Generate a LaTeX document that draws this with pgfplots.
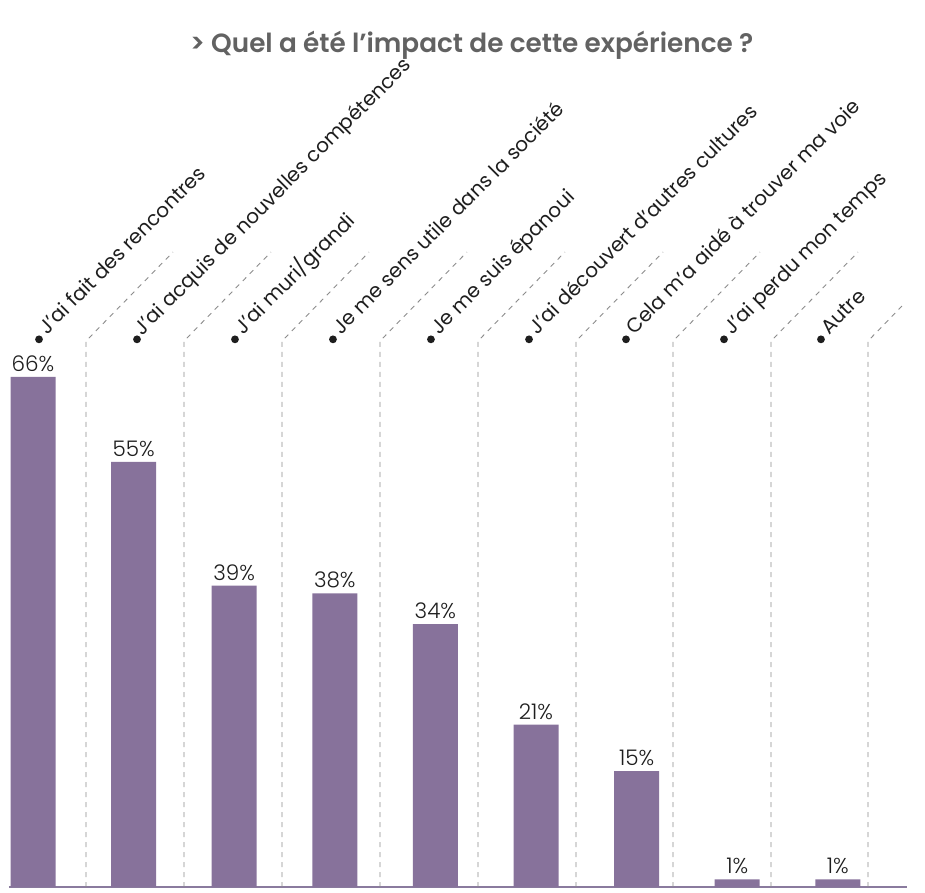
\documentclass[border=0pt]{standalone}
\usepackage{fontspec}
\setmainfont{Poppins}
\IfFontExistsTF{Poppins Light}{\newfontfamily\lightfont{Poppins Light}}{\newfontfamily\lightfont{Poppins}}
\IfFontExistsTF{Poppins SemiBold}{\newfontfamily\titlefont{Poppins SemiBold}}{\newfontfamily\titlefont{Poppins}}
\usepackage{pgfplots}
\pgfplotsset{compat=1.18}
\definecolor{barc}{HTML}{87729B}
\definecolor{basec}{HTML}{8A7B9E}
\definecolor{dashc}{HTML}{8C8C8C}
\definecolor{titc}{HTML}{626262}
\definecolor{txt}{HTML}{1E1E1E}
\pgfplotstableread{
x y
0 66
1 55
2 39
3 38
4 34
5 21
6 15
7 1
8 1
}\data
\begin{document}
\begin{tikzpicture}[x=1pt,y=1pt]
\useasboundingbox (0,0) rectangle (925,892);
\begin{axis}[
  at={(9pt,5pt)}, anchor=south west,
  scale only axis, width=898pt, height=887pt,
  xmin=-0.2386, xmax=8.688, ymin=0, ymax=114.75,
  axis x line*=bottom, hide y axis,
  x axis line style={line width=2.5pt, color=basec},
  xtick=\empty, ytick=\empty,
  clip=false,
  /pgf/number format/assume math mode=true,
]
\addplot[ybar, bar width=45pt, fill=barc, draw=none,
  nodes near coords={\pgfmathprintnumber{\pgfplotspointmeta}\%},
  nodes near coords style={font=\lightfont\fontsize{21.5}{21.5}\selectfont, text=txt, anchor=south, inner sep=1pt, yshift=4pt}]
  table[x=x,y=y]{\data};

\tikzset{dl/.style={dashc, dash pattern=on 5pt off 5pt, line width=0.9pt}}
\draw[dl] (axis cs:0.527,0) -- (axis cs:0.527,70.63) -- ++(87pt,89pt);
\draw[dl] (axis cs:1.501,0) -- (axis cs:1.501,70.63) -- ++(87pt,89pt);
\draw[dl] (axis cs:2.475,0) -- (axis cs:2.475,70.63) -- ++(87pt,89pt);
\draw[dl] (axis cs:3.449,0) -- (axis cs:3.449,70.63) -- ++(87pt,89pt);
\draw[dl] (axis cs:4.423,0) -- (axis cs:4.423,70.63) -- ++(87pt,89pt);
\draw[dl] (axis cs:5.398,0) -- (axis cs:5.398,70.63) -- ++(87pt,89pt);
\draw[dl] (axis cs:6.362,0) -- (axis cs:6.362,70.63) -- ++(87pt,89pt);
\draw[dl] (axis cs:7.336,0) -- (axis cs:7.336,70.63) -- ++(87pt,89pt);
\draw[dl] (axis cs:8.300,0) -- (axis cs:8.300,70.63) -- ++(34pt,35pt);

\tikzset{lab/.style={rotate=45, anchor=base west, inner sep=0pt, text=txt, font=\fontsize{20}{20}\selectfont}}
\tikzset{bul/.style={txt}}
\fill[bul] ([xshift=-47pt]axis cs:0.527,70.85) circle (3.9pt);
\fill[bul] ([xshift=-47pt]axis cs:1.501,70.85) circle (3.9pt);
\fill[bul] ([xshift=-47pt]axis cs:2.475,70.85) circle (3.9pt);
\fill[bul] ([xshift=-47pt]axis cs:3.449,70.85) circle (3.9pt);
\fill[bul] ([xshift=-47pt]axis cs:4.423,70.85) circle (3.9pt);
\fill[bul] ([xshift=-47pt]axis cs:5.398,70.85) circle (3.9pt);
\fill[bul] ([xshift=-47pt]axis cs:6.362,70.85) circle (3.9pt);
\fill[bul] ([xshift=-47pt]axis cs:7.336,70.85) circle (3.9pt);
\fill[bul] ([xshift=-47pt]axis cs:8.300,70.85) circle (3.9pt);
\node[lab] at ([xshift=-39pt,yshift=4pt]axis cs:0.527,70.85) {J'ai fait des rencontres};
\node[lab] at ([xshift=-42pt,yshift=3pt]axis cs:1.501,70.85) {J'ai acquis de nouvelles compétences};
\node[lab] at ([xshift=-39pt,yshift=4pt]axis cs:2.475,70.85) {J'ai muri/grandi};
\node[lab] at ([xshift=-39pt,yshift=4pt]axis cs:3.449,70.85) {Je me sens utile dans la société};
\node[lab] at ([xshift=-39pt,yshift=4pt]axis cs:4.423,70.85) {Je me suis épanoui};
\node[lab] at ([xshift=-39pt,yshift=4pt]axis cs:5.398,70.85) {J'ai découvert d'autres cultures};
\node[lab] at ([xshift=-39pt,yshift=4pt]axis cs:6.362,70.85) {Cela m'a aidé à trouver ma voie};
\node[lab] at ([xshift=-39pt,yshift=4pt]axis cs:7.336,70.85) {J'ai perdu mon temps};
\node[lab] at ([xshift=-39pt,yshift=4pt]axis cs:8.300,70.85) {Autre};

\node[text=titc, font=\titlefont\fontsize{26.3}{26.3}\selectfont] at (axis cs:4.36,108.9) {> Quel a été l’impact de cette expérience ?};
\end{axis}
\end{tikzpicture}
\end{document}
